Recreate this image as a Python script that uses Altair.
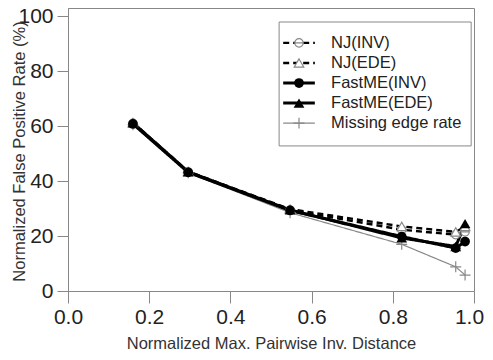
import altair as alt
import pandas as pd

# ---- data ----
x_vals = [0.160, 0.296, 0.547, 0.822, 0.955, 0.978]
nj_inv = [61.0, 43.3, 29.5, 22.3, 20.5, 21.5]
nj_ede = [61.3, 43.5, 29.8, 23.5, 21.5, 23.5]
fm_inv = [60.8, 43.2, 29.3, 19.8, 15.6, 18.0]
fm_ede = [61.2, 43.4, 29.5, 19.3, 16.2, 24.5]
missing = [60.5, 43.0, 28.5, 17.0, 8.8, 5.8]
series_names = ["NJ(INV)", "NJ(EDE)", "FastME(INV)", "FastME(EDE)", "Missing edge rate"]
series_values = [nj_inv, nj_ede, fm_inv, fm_ede, missing]
x_ticks = [0.0, 0.2, 0.4, 0.6, 0.8, 1.0]
y_ticks = [0, 20, 40, 60, 80, 100]

FONT = "Liberation Sans"
GRAY = "#888888"
CIRCLE_BAR = "M-1,0A1,1 0 1,1 1,0A1,1 0 1,1 -1,0Z M-1,0H1"
PLUS = "M-1,0H1M0,-1V1"

styles = {
    "NJ(INV)": dict(dash=[6, 4], lw=2.4, lcolor="black", shape=CIRCLE_BAR, filled=False,
                     mcolor=GRAY, size=70, mw=1.2),
    "NJ(EDE)": dict(dash=[6, 4], lw=2.4, lcolor="black", shape="triangle-up", filled=False,
                     mcolor=GRAY, size=90, mw=1.2),
    "FastME(INV)": dict(dash=[1, 0], lw=3, lcolor="black", shape="circle", filled=True,
                         mcolor="black", size=95, mw=1),
    "FastME(EDE)": dict(dash=[1, 0], lw=3, lcolor="black", shape="triangle-up", filled=True,
                         mcolor="black", size=115, mw=1),
    "Missing edge rate": dict(dash=[1, 0], lw=1.2, lcolor=GRAY, shape=PLUS, filled=False,
                               mcolor=GRAY, size=120, mw=1.2),
}

# legend layout (in data units)
legend_rows = [90.3, 83.0, 75.7, 68.4, 61.1]
legend_box = pd.DataFrame({"x": [0.52], "x2": [0.993], "y": [52.8], "y2": [97.9]})
leg_x1, leg_xm, leg_x2, leg_tx = 0.53, 0.569, 0.608, 0.648

xs = alt.Scale(domain=[0, 1], nice=False, zero=False)
ys = alt.Scale(domain=[0, 103], nice=False, zero=False)
xaxis = alt.Axis(values=x_ticks, format=".1f", title="Normalized Max. Pairwise Inv. Distance",
                 grid=False, tickSize=12, domainColor=GRAY, tickColor=GRAY,
                 labelFontSize=21, labelColor="#222", labelFont=FONT, labelPadding=3,
                 labelOffset={"condition": {"test": "datum.value == 1", "value": -5}, "value": 0},
                 titleFont=FONT, titleFontSize=16.5, titleFontWeight="normal",
                 titleColor="#333", titleX=203, titleY=52, titleBaseline="middle",
                 labelFlush=False)
yaxis = alt.Axis(values=y_ticks, title="Normalized False Positive Rate (%)",
                 grid=False, tickSize=11, domainColor=GRAY, tickColor=GRAY,
                 labelFontSize=21, labelColor="#222", labelFont=FONT, labelPadding=4,
                 titleFont=FONT, titleFontSize=16.5, titleFontWeight="normal",
                 titleColor="#333", titleX=-49, titleY=143, titleBaseline="middle",
                 labelFlush=False)

X = alt.X("x:Q", scale=xs, axis=xaxis)
Y = alt.Y("y:Q", scale=ys, axis=yaxis)


def marker(chart_base, st):
    if st["filled"]:
        return chart_base.mark_point(shape=st["shape"], filled=True, color=st["mcolor"],
                                     size=st["size"], opacity=1)
    return chart_base.mark_point(shape=st["shape"], filled=False, stroke=st["mcolor"],
                                 fill="white", fillOpacity=1 if st["shape"] != PLUS else 0,
                                 size=st["size"], strokeWidth=st["mw"], opacity=1)


line_order = ["Missing edge rate", "NJ(INV)", "NJ(EDE)", "FastME(INV)", "FastME(EDE)"]
point_order = ["Missing edge rate", "NJ(INV)", "NJ(EDE)", "FastME(INV)", "FastME(EDE)"]
line_layers, point_layers = [], []
for name in line_order:
    st = styles[name]
    vals = series_values[series_names.index(name)]
    df = pd.DataFrame({"x": x_vals, "y": vals})
    line_layers.append(alt.Chart(df).mark_line(color=st["lcolor"], strokeWidth=st["lw"],
                                               strokeDash=st["dash"]).encode(x=X, y=Y))
for name in point_order:
    st = styles[name]
    vals = series_values[series_names.index(name)]
    df = pd.DataFrame({"x": x_vals, "y": vals})
    point_layers.append(marker(alt.Chart(df), st).encode(x=X, y=Y))

# legend
leg_layers = [alt.Chart(legend_box).mark_rect(fill="white", stroke=GRAY, strokeWidth=1)
              .encode(x=X, x2="x2:Q", y=Y, y2="y2:Q")]
for name, ry in zip(series_names, legend_rows):
    st = styles[name]
    seg = pd.DataFrame({"x": [leg_x1], "x2": [leg_x2], "y": [ry]})
    leg_layers.append(alt.Chart(seg).mark_rule(color=st["lcolor"], strokeWidth=st["lw"],
                                               strokeDash=st["dash"])
                      .encode(x=X, x2="x2:Q", y=Y))
    pt = pd.DataFrame({"x": [leg_xm], "y": [ry]})
    leg_layers.append(marker(alt.Chart(pt), st).encode(x=X, y=Y))
    tx = pd.DataFrame({"x": [leg_tx], "y": [ry], "t": [name]})
    leg_layers.append(alt.Chart(tx).mark_text(align="left", baseline="middle", font=FONT,
                                              fontSize=16.5, color="#222")
                      .encode(x=X, y=Y, text="t:N"))

chart = alt.layer(*line_layers, *point_layers, *leg_layers).properties(
    width=406, height=283,
    autosize=alt.AutoSizeParams(type="none"),
    padding={"left": 60, "top": 0, "right": 11, "bottom": 61},
    background="white",
).configure_view(stroke=GRAY, strokeWidth=1)

chart.save("out.html", embed_options={"renderer": "svg", "actions": False})
